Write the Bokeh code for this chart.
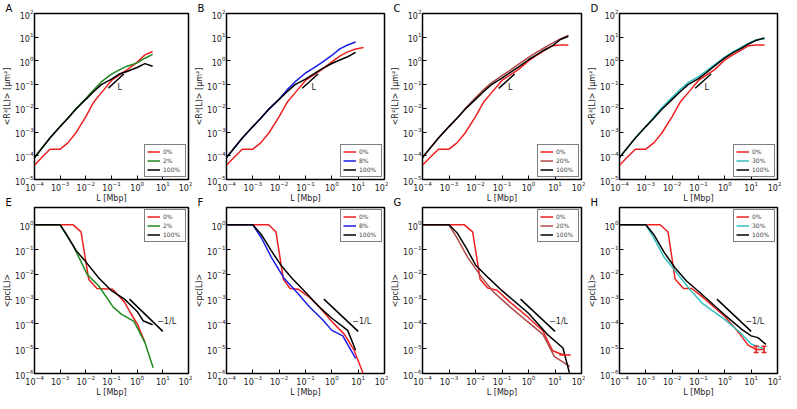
from bokeh.plotting import figure
from bokeh.models import (ColumnDataSource, Legend, LegendItem, Title, FixedTicker, Range1d)
from bokeh.layouts import row, column
from bokeh.embed import file_html
from bokeh.resources import INLINE
from bokeh.core.properties import value

# ---------------- colours ----------------
RED = "#ee1f1f"
BLACK = "#000000"
GREEN = "#1f8a1f"
BLUE = "#1a1ae8"
BROWN = "#b04848"
CYAN = "#33c0c0"

# ---------------- ticks ----------------
x_ticks = [1e-4, 1e-3, 1e-2, 1e-1, 1, 10, 100]
y_ticks_top = [1e-5, 1e-4, 1e-3, 1e-2, 1e-1, 1, 10, 100]
y_ticks_bot = [1e-6, 1e-5, 1e-4, 1e-3, 1e-2, 1e-1, 1]

# ---------------- top row: <R^2(L)> ----------------
L_top = [1e-4, 2e-4, 4e-4, 1e-3, 2e-3, 4e-3, 1e-2, 2e-2, 4e-2, 0.1, 0.2, 0.4, 1, 2, 4, 8, 16, 32]

A_red = [4.0e-5, 8.9e-5, 1.9e-4, 1.9e-4, 3.5e-4, 8.9e-4, 4.5e-3, 1.8e-2, 4.5e-2, 0.15, 0.25, 0.42, 0.89, 1.8, 2.5]
A_green = [8.5e-5, 2.2e-4, 5.6e-4, 1.7e-3, 3.8e-3, 9.3e-3, 2.6e-2, 6.0e-2, 0.13, 0.28, 0.42, 0.6, 0.83, 1.3, 1.9]
A_black = [8.5e-5, 2.2e-4, 5.6e-4, 1.7e-3, 3.8e-3, 8.9e-3, 2.4e-2, 5.0e-2, 0.1, 0.17, 0.28, 0.36, 0.53, 0.77, 0.6]

B_red = [4.0e-5, 8.9e-5, 1.9e-4, 1.9e-4, 3.5e-4, 8.9e-4, 4.5e-3, 1.8e-2, 4.5e-2, 0.15, 0.25, 0.42, 0.92, 1.6, 2.4, 3.2, 3.7]
B_blue = [8.5e-5, 2.2e-4, 5.6e-4, 1.7e-3, 3.8e-3, 9.3e-3, 2.5e-2, 6.0e-2, 0.13, 0.31, 0.5, 0.83, 1.7, 3.2, 4.7, 6.3]
B_black = [8.5e-5, 2.2e-4, 5.6e-4, 1.7e-3, 3.8e-3, 8.9e-3, 2.4e-2, 5.0e-2, 0.1, 0.17, 0.28, 0.45, 0.78, 1.1, 1.5, 2.3]

C_red = [4.0e-5, 8.9e-5, 1.9e-4, 1.9e-4, 3.5e-4, 8.9e-4, 4.5e-3, 1.8e-2, 4.5e-2, 0.15, 0.25, 0.42, 1.0, 1.7, 2.8, 4.4, 4.7, 4.7]
C_brown = [8.5e-5, 2.2e-4, 5.6e-4, 1.7e-3, 3.8e-3, 9.5e-3, 2.8e-2, 6.0e-2, 0.12, 0.24, 0.4, 0.7, 1.4, 2.3, 3.6, 5.6, 8.5, 12]
C_black = [8.5e-5, 2.2e-4, 5.6e-4, 1.7e-3, 3.8e-3, 8.9e-3, 2.4e-2, 5.0e-2, 0.1, 0.19, 0.32, 0.54, 1.12, 1.8, 2.9, 4.3, 8.0, 11]

D_red = [4.0e-5, 8.9e-5, 1.9e-4, 1.9e-4, 3.5e-4, 8.9e-4, 4.5e-3, 1.8e-2, 4.5e-2, 0.15, 0.25, 0.42, 1.1, 1.8, 2.8, 4.4, 4.7, 4.7]
D_cyan = [8.5e-5, 2.2e-4, 5.6e-4, 1.7e-3, 4.2e-3, 1.05e-2, 2.9e-2, 6.2e-2, 0.12, 0.22, 0.38, 0.68, 1.45, 2.4, 3.6, 5.6, 7.8, 8.5]
D_black = [8.5e-5, 2.2e-4, 5.6e-4, 1.7e-3, 3.8e-3, 8.9e-3, 2.4e-2, 5.0e-2, 0.1, 0.18, 0.32, 0.6, 1.35, 2.2, 3.3, 5.2, 7.5, 9.3]

# slope-1 guide
guide_L_x = [0.075, 0.3]
guide_L_y = [0.07, 0.28]
guide_L_text_pos = (0.17, 0.075)

# ---------------- bottom row: <p_c(L)> ----------------
E_red_L = [1e-4, 3.2e-3, 6.5e-3, 1.3e-2, 2.7e-2, 0.11, 0.32, 0.56, 1.05, 2.0]
E_red = [1, 1, 0.52, 6.2e-3, 2.7e-3, 2.5e-3, 7.6e-4, 2.7e-4, 9.3e-5, 1.8e-5]
E_green_L = [1e-4, 1e-3, 3.2e-3, 1.15e-2, 3.2e-2, 0.115, 0.24, 0.75, 2.0, 4.2]
E_green = [1, 1, 0.145, 9.8e-3, 3.4e-3, 4.9e-4, 2.5e-4, 1.26e-4, 1.8e-5, 1.7e-6]
E_black_L = [1e-4, 1e-3, 1.6e-3, 4.2e-3, 1e-2, 3.2e-2, 0.1, 0.32, 1, 1.7, 4]
E_black = [1, 1, 0.48, 9.1e-2, 3.2e-2, 7.2e-3, 2.2e-3, 1.0e-3, 3.2e-4, 1.35e-4, 9.3e-5]

F_red_L = [1e-4, 4e-3, 7.6e-3, 1.45e-2, 2.6e-2, 5.4e-2, 0.14, 0.33, 1, 3, 7, 15.5]
F_red = [1, 1, 0.51, 6.3e-3, 2.7e-3, 2.5e-3, 1.2e-3, 4.9e-4, 1.26e-4, 3.8e-5, 8.7e-6, 1e-6]
F_blue_L = [1e-4, 1e-3, 2.1e-3, 5e-3, 1.5e-2, 4.7e-2, 0.14, 0.44, 1, 2.6, 8]
F_blue = [1, 1, 0.3, 5e-2, 7.2e-3, 1.9e-3, 4.9e-4, 1.5e-4, 5.5e-5, 3.3e-5, 4.1e-6]
F_black_L = [1e-4, 1e-3, 2.1e-3, 5e-3, 1.15e-2, 3e-2, 0.1, 0.33, 1, 4, 8]
F_black = [1, 1, 0.41, 9.1e-2, 2.4e-2, 7.2e-3, 1.9e-3, 4.9e-4, 1.7e-4, 5.5e-5, 8.7e-6]

G_red_L = [1e-4, 3.8e-3, 7.8e-3, 1.5e-2, 2.9e-2, 6.5e-2, 0.2, 0.9, 3.5, 8.2, 14, 23]
G_red = [1, 1, 0.52, 6.3e-3, 2.8e-3, 2.3e-3, 7.6e-4, 2e-4, 5.2e-5, 8.3e-6, 6.6e-6, 5.6e-6]
G_brown_L = [1e-4, 1e-3, 2e-3, 5e-3, 1.6e-2, 4.9e-2, 0.2, 0.9, 3.5, 9.5, 36]
G_brown = [1, 1, 0.3, 5e-2, 8.3e-3, 1.9e-3, 4.9e-4, 1.26e-4, 3.8e-5, 4.8e-6, 1.95e-6]
G_black_L = [1e-4, 1e-3, 2e-3, 4.7e-3, 1e-2, 3.1e-2, 0.1, 1, 5, 20, 35]
G_black = [1, 1, 0.48, 0.107, 2.4e-2, 7.2e-3, 2.2e-3, 2.7e-4, 3.9e-5, 1.07e-5, 1.07e-6]
G_red_xerr_lo = [14.5]
G_red_xerr_hi = [39]
G_red_xerr_y = [5.6e-6]

H_red_L = [1e-4, 3.5e-3, 7e-3, 1.3e-2, 2.7e-2, 5.5e-2, 0.145, 1, 3.8, 7.6, 15.5, 31]
H_red = [1, 1, 0.51, 6.3e-3, 2.7e-3, 2.7e-3, 1.2e-3, 2e-4, 3.8e-5, 1.4e-5, 9.3e-6, 9.3e-6]
H_cyan_L = [1e-4, 1e-3, 2e-3, 4.9e-3, 1.55e-2, 4.6e-2, 0.145, 1, 3.8, 10, 31]
H_cyan = [1, 1, 0.3, 5e-2, 1.1e-2, 2.5e-3, 6.6e-4, 1.5e-4, 4.5e-5, 1.55e-5, 1e-5]
H_black_L = [1e-4, 1e-3, 2e-3, 4.9e-3, 1.3e-2, 3.5e-2, 0.11, 1, 4.4, 10, 18, 36]
H_black = [1, 1, 0.41, 7.9e-2, 1.8e-2, 5.4e-3, 1.9e-3, 2.3e-4, 6e-5, 3.3e-5, 2.8e-5, 1.5e-5]
H_red_yerr_x = [15.5, 31]
H_red_yerr_lo = [7.0e-6, 7.0e-6]
H_red_yerr_hi = [1.25e-5, 1.25e-5]

# -1/L guide
guide_inv_x = [0.5, 10]
guide_inv_y = [1e-3, 5e-5]
guide_inv_text_pos = (6.0, 1.3e-4)

FONT = "DejaVu Sans"
TOP_LABEL = "<R\u00b2(L)> [\u03bcm\u00b2]"
BOT_LABEL = "<pc(L)>"

widths = [192, 196, 197, 196]
FIG_H = 205


def make_fig(width, height, ylim, yticks, ylabel, letter):
    p = figure(width=width, height=height, x_axis_type="log", y_axis_type="log",
               x_range=Range1d(1e-4, 1e2), y_range=Range1d(*ylim),
               output_backend="svg", toolbar_location=None,
               min_border_left=31, min_border_right=4,
               min_border_top=4, min_border_bottom=4)
    p.title = Title(text=letter, align="left", offset=-29, standoff=0,
                    text_font=FONT, text_font_size="10px", text_font_style="normal",
                    text_color="black")
    p.grid.visible = False
    p.outline_line_color = "black"
    p.outline_line_width = 1.5
    p.background_fill_color = "white"
    p.border_fill_color = "white"
    p.border_fill_alpha = 0.0
    for ax in (p.xaxis[0], p.yaxis[0]):
        ax.major_tick_in = 4
        ax.major_tick_out = 0
        ax.major_tick_line_color = "black"
        ax.minor_tick_line_color = None
        ax.axis_line_color = "black"
        ax.major_label_text_font_size = "8px"
        ax.major_label_text_font = FONT
        ax.major_label_text_color = "#222222"
        ax.axis_label_text_font = FONT
        ax.axis_label_text_font_size = "8px"
        ax.axis_label_text_font_style = "normal"
        ax.axis_label_text_color = "#222222"
        ax.axis_label_standoff = 0
        ax.major_label_standoff = 1
    p.xaxis.ticker = FixedTicker(ticks=x_ticks)
    p.yaxis.ticker = FixedTicker(ticks=yticks)
    p.xaxis.axis_label = "L [Mbp]"
    p.yaxis.axis_label = ylabel
    return p


def add_series(p, xs, ys, color, items, label):
    r = p.line(xs, ys, line_color=color, line_width=1.5)
    t = p.scatter([xs[-1]], [ys[-1]], marker="line", size=5, line_color=color, line_width=1.5)
    items.append(LegendItem(label=label, renderers=[r, t]))


def add_legend(p, items, loc):
    lg = Legend(items=items, location=loc, label_text_font=FONT, label_text_font_size="6px",
                label_height=8, glyph_height=9, glyph_width=13, spacing=0, padding=2,
                margin=2, label_standoff=3, border_line_color="black", border_line_width=1.5,
                background_fill_color="white", background_fill_alpha=1.0)
    p.add_layout(lg)


def add_guide(p, gx, gy, txt, pos):
    p.line(gx, gy, line_color="black", line_width=1.5)
    src = ColumnDataSource(dict(x=[pos[0]], y=[pos[1]], t=[txt]))
    p.text(x="x", y="y", text="t", source=src, text_font=value(FONT), text_font_size="8px",
           text_baseline="middle", text_align="left", text_color="#222222")


top_specs = [
    ("A", L_top, [(A_red, RED, "0%"), (A_green, GREEN, "2%"), (A_black, BLACK, "100%")]),
    ("B", L_top, [(B_red, RED, "0%"), (B_blue, BLUE, "8%"), (B_black, BLACK, "100%")]),
    ("C", L_top, [(C_red, RED, "0%"), (C_brown, BROWN, "20%"), (C_black, BLACK, "100%")]),
    ("D", L_top, [(D_red, RED, "0%"), (D_cyan, CYAN, "30%"), (D_black, BLACK, "100%")]),
]

top_figs = []
for w, (letter, Ls, series) in zip(widths, top_specs):
    p = make_fig(w, FIG_H, (1e-5, 1e2), y_ticks_top, TOP_LABEL, letter)
    items = []
    for ys, col, lab in series:
        add_series(p, Ls[:len(ys)], ys, col, items, lab)
    add_guide(p, guide_L_x, guide_L_y, "L", guide_L_text_pos)
    add_legend(p, items, "bottom_right")
    top_figs.append(p)

bot_specs = [
    ("E", [(E_red_L, E_red, RED, "0%"), (E_green_L, E_green, GREEN, "2%"), (E_black_L, E_black, BLACK, "100%")]),
    ("F", [(F_red_L, F_red, RED, "0%"), (F_blue_L, F_blue, BLUE, "8%"), (F_black_L, F_black, BLACK, "100%")]),
    ("G", [(G_red_L, G_red, RED, "0%"), (G_brown_L, G_brown, BROWN, "20%"), (G_black_L, G_black, BLACK, "100%")]),
    ("H", [(H_red_L, H_red, RED, "0%"), (H_cyan_L, H_cyan, CYAN, "30%"), (H_black_L, H_black, BLACK, "100%")]),
]

bot_figs = []
for w, (letter, series) in zip(widths, bot_specs):
    p = make_fig(w, FIG_H, (1e-6, 5), y_ticks_bot, BOT_LABEL, letter)
    items = []
    for Ls, ys, col, lab in series:
        add_series(p, Ls, ys, col, items, lab)
    if letter == "G":
        p.segment(G_red_xerr_lo, G_red_xerr_y, G_red_xerr_hi, G_red_xerr_y, line_color=RED, line_width=1.5)
        p.scatter(G_red_xerr_lo + G_red_xerr_hi, G_red_xerr_y * 2, marker="line", size=8,
                  line_color=RED, line_width=1.5)
    if letter == "H":
        p.segment(H_red_yerr_x, H_red_yerr_lo, H_red_yerr_x, H_red_yerr_hi, line_color=RED, line_width=1.5)
        p.scatter(H_red_yerr_x * 2, H_red_yerr_lo + H_red_yerr_hi, marker="dash", size=5,
                  line_color=RED, line_width=1.5)
    add_guide(p, guide_inv_x, guide_inv_y, "\u22121/L", guide_inv_text_pos)
    add_legend(p, items, "top_right")
    bot_figs.append(p)

top_row = row(*top_figs)
bot_row = row(*bot_figs, margin=(-11, 0, -6, 0))
layout = column(top_row, bot_row)
open("out.html", "w").write(file_html(layout, INLINE))
